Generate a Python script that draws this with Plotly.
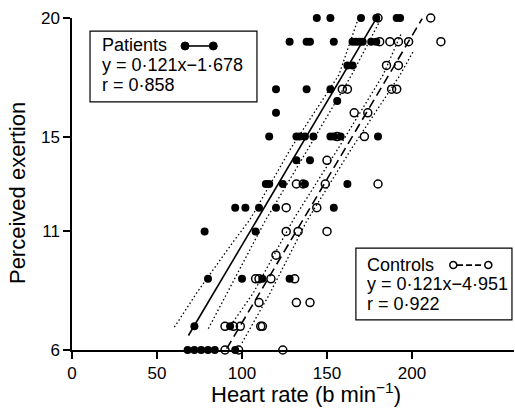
import plotly.graph_objects as go

# ---------------- data ----------------
patients_hr = [144, 152, 170, 179, 191, 193,
               128, 138, 140, 154, 165, 167, 169, 171, 176, 179,
               162, 165,
               120, 138, 152,
               156,
               120,
               116, 132, 134, 137, 142, 152, 154, 158, 180,
               132, 140,
               114, 116, 124, 137, 162,
               96, 102, 110, 120, 154,
               78, 108,
               80, 100, 112, 128,
               72, 93,
               68, 72, 76, 80, 84, 96]
patients_rpe = [20] * 6 + [19] * 10 + [18] * 2 + [17] * 3 + [16.5] + [16] + \
               [15] * 9 + [14] * 2 + [13] * 5 + [12] * 5 + [11] * 2 + [9] * 4 + \
               [7] * 2 + [6] * 6

controls_hr = [180, 211,
               181, 187, 192, 198, 217,
               185, 192,
               159, 162, 188, 191,
               166, 174,
               156, 172,
               150,
               132, 136, 149, 180,
               126, 144,
               126, 133, 150,
               120,
               108, 110, 117, 131,
               110, 132, 140,
               90, 95, 99, 111, 112,
               90, 98, 124]
controls_rpe = [20] * 2 + [19] * 5 + [18] * 2 + [17] * 4 + [16] * 2 + [15] * 2 + \
               [14] + [13] * 4 + [12] * 2 + [11] * 3 + [10] + [9] * 4 + [8] * 3 + \
               [7] * 5 + [6] * 3

# regression lines (from the printed equations)
patients_slope, patients_icpt = 0.121, -1.678
controls_slope, controls_icpt = 0.121, -4.951
patients_line_hr = [68.5, 179.2]
controls_line_hr = [91.0, 206.0]

# dotted confidence bands
pat_upper_hr = [60.2, 73.3, 94.9, 104.7, 128.7, 157.0, 168.5]
pat_upper_rpe = [6.96, 8.4, 10.57, 11.5, 14.5, 17.6, 20.0]
pat_lower_hr = [80.2, 107.2, 113.5, 139.0, 164.5, 182.0]
pat_lower_rpe = [6.9, 10.57, 11.43, 14.5, 17.6, 20.0]
con_upper_hr = [92.0, 106.6, 130.2, 156.6, 183.0, 194.0]
con_upper_rpe = [6.9, 8.4, 11.5, 14.5, 17.6, 19.4]
con_lower_hr = [100.0, 116.5, 138.0, 164.5, 193.0, 200.8]
con_lower_rpe = [6.3, 8.4, 11.43, 14.5, 17.6, 18.6]

x_ticks = [0, 50, 100, 150, 200]
y_ticks = [6, 11, 15, 20]

patients_text = ["Patients", "y = 0·121x\u22121·678", "r = 0·858"]
controls_text = ["Controls", "y = 0·121x\u22124·951", "r = 0·922"]

FONT = "Liberation Sans, Arial, Helvetica, sans-serif"

fig = go.Figure()

dot = "1.5px,2.5px"
for hx, ry in [(pat_upper_hr, pat_upper_rpe), (pat_lower_hr, pat_lower_rpe),
               (con_upper_hr, con_upper_rpe), (con_lower_hr, con_lower_rpe)]:
    fig.add_trace(go.Scatter(x=hx, y=ry, mode="lines",
                             line=dict(color="black", width=1.3, dash=dot),
                             showlegend=False, hoverinfo="skip", cliponaxis=False))

fig.add_trace(go.Scatter(
    x=patients_line_hr,
    y=[patients_slope * v + patients_icpt for v in patients_line_hr],
    mode="lines", line=dict(color="black", width=1.6),
    showlegend=False, cliponaxis=False))
fig.add_trace(go.Scatter(
    x=controls_line_hr,
    y=[controls_slope * v + controls_icpt for v in controls_line_hr],
    mode="lines", line=dict(color="black", width=1.6, dash="9px,5px"),
    showlegend=False, cliponaxis=False))

fig.add_trace(go.Scatter(
    x=controls_hr, y=controls_rpe, mode="markers",
    marker=dict(symbol="circle-open", size=8, color="black", line=dict(width=1.5)),
    showlegend=False, cliponaxis=False))
fig.add_trace(go.Scatter(
    x=patients_hr, y=patients_rpe, mode="markers",
    marker=dict(symbol="circle", size=8, color="black"),
    showlegend=False, cliponaxis=False))

# legend boxes
fig.add_shape(type="rect", xref="x", yref="y", x0=10.6, x1=108.8, y0=16.46, y1=19.45,
              line=dict(color="black", width=1.2), fillcolor="white", layer="above")
fig.add_shape(type="rect", xref="x", yref="y", x0=167, x1=258.8, y0=7.27, y1=10.30,
              line=dict(color="black", width=1.2), fillcolor="white", layer="above")

# key samples
fig.add_shape(type="line", xref="x", yref="y", x0=66.5, x1=83.1, y0=18.82, y1=18.82,
              line=dict(color="black", width=1.6), layer="above")
for xv in [66.5, 83.1]:
    fig.add_shape(type="circle", xref="x", yref="y", xsizemode="pixel", ysizemode="pixel",
                  xanchor=xv, yanchor=18.82, x0=-4, x1=4, y0=-4, y1=4,
                  fillcolor="black", line=dict(color="black", width=1), layer="above")
fig.add_shape(type="line", xref="x", yref="y", x0=226.5, x1=242.7, y0=9.58, y1=9.58,
              line=dict(color="black", width=1.6, dash="6px,3px"), layer="above")
for xv in [224.3, 244.9]:
    fig.add_shape(type="circle", xref="x", yref="y", xsizemode="pixel", ysizemode="pixel",
                  xanchor=xv, yanchor=9.58, x0=-3.5, x1=3.5, y0=-3.5, y1=3.5,
                  fillcolor="white", line=dict(color="black", width=1.5), layer="above")

ann = []
for txt, yv in zip(patients_text, [18.85, 18.0, 17.16]):
    ann.append(dict(x=17.1, y=yv, xref="x", yref="y", text=txt, showarrow=False, borderpad=0,
                    xanchor="left", yanchor="middle", font=dict(size=18, color="black", family=FONT)))
for txt, yv in zip(controls_text, [9.6, 8.79, 7.96]):
    ann.append(dict(x=172.9, y=yv, xref="x", yref="y", text=txt, showarrow=False, borderpad=0,
                    xanchor="left", yanchor="middle", font=dict(size=18, color="black", family=FONT)))
ann.append(dict(x=0.529, y=-0.1295, xref="paper", yref="paper",
                text="Heart rate (b min<sup>\u22121</sup>)", showarrow=False,
                xanchor="center", yanchor="middle", font=dict(size=22, color="black", family=FONT)))
ann.append(dict(x=-0.122, y=0.473, xref="paper", yref="paper", text="Perceived exertion",
                showarrow=False, textangle=-90, xanchor="center", yanchor="middle",
                font=dict(size=22, color="black", family=FONT)))

fig.update_layout(
    width=515, height=410,
    margin=dict(l=72, r=1, t=18, b=60),
    plot_bgcolor="white", paper_bgcolor="white",
    annotations=ann,
    font=dict(family=FONT, color="black"),
    xaxis=dict(range=[0, 260], tickvals=x_ticks, ticktext=[str(v) for v in x_ticks],
               showline=True, linecolor="black", linewidth=1.5, ticks="outside",
               ticklen=7, tickwidth=1.5, tickcolor="black", showgrid=False, zeroline=False,
               tickfont=dict(size=17, color="black", family=FONT)),
    yaxis=dict(range=[6, 20], tickvals=y_ticks, ticktext=[str(v) for v in y_ticks],
               showline=True, linecolor="black", linewidth=1.5, ticks="outside",
               ticklen=7, tickwidth=1.5, tickcolor="black", showgrid=False, zeroline=False,
               tickfont=dict(size=17, color="black", family=FONT)),
)

fig.write_html("out.html")
